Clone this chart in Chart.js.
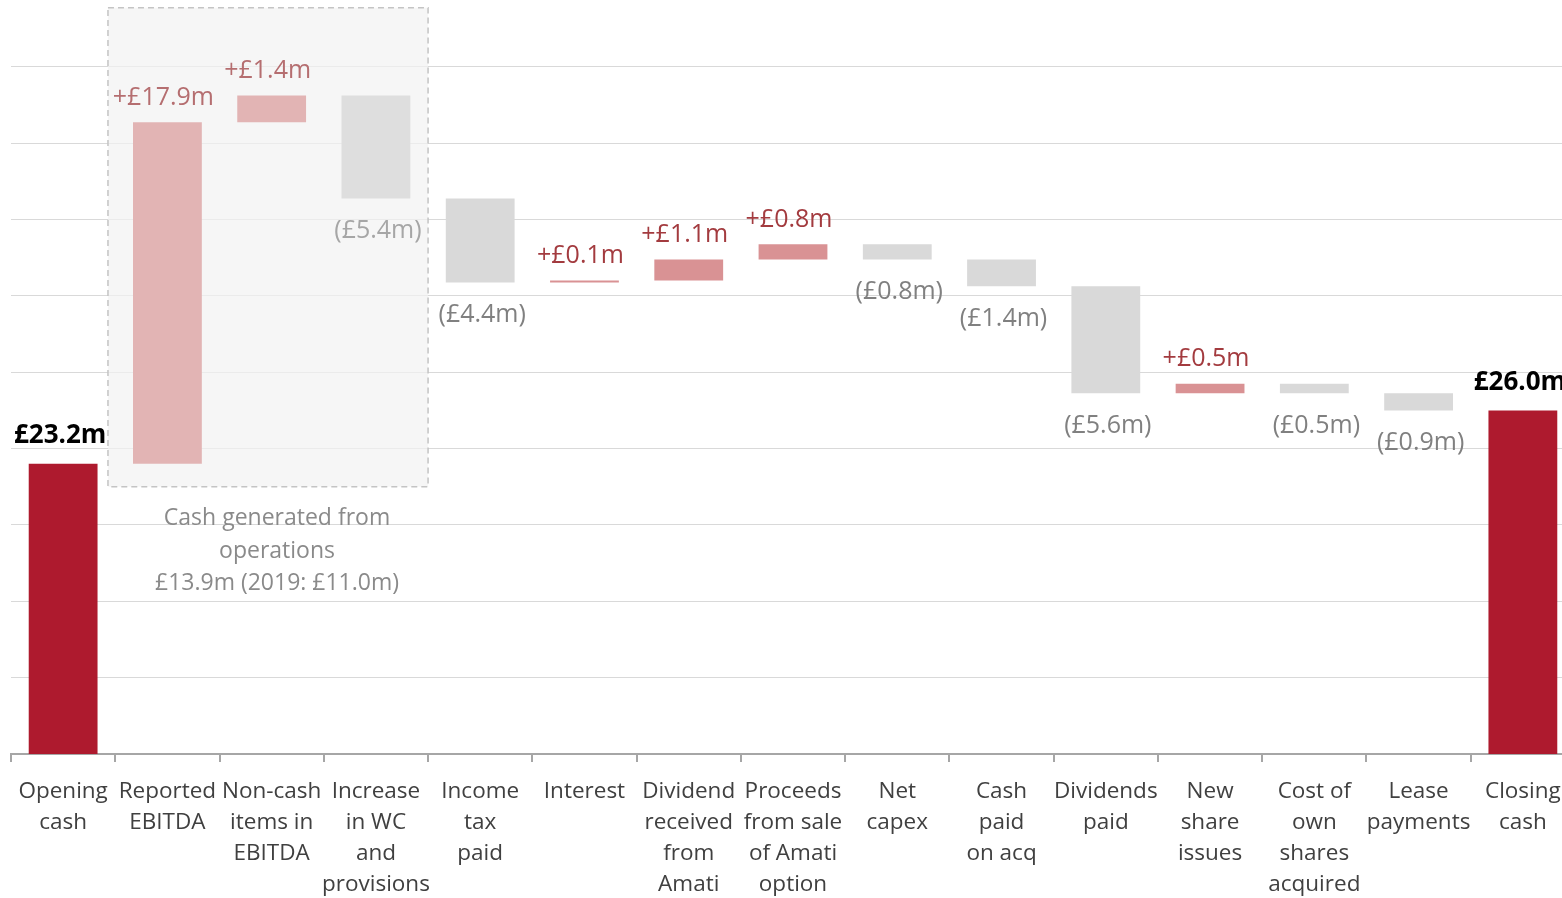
<!DOCTYPE html>
<html>
<head>
<meta charset="utf-8">
<script src="https://cdn.jsdelivr.net/npm/chart.js@4"></script>
<style>
  html, body { margin: 0; padding: 0; background: #fff; overflow: hidden; }
  #wrap { width: 1562px; height: 898px; overflow: hidden; }
</style>
</head>
<body>
<div id="wrap"><canvas id="myChart" width="1575" height="898"></canvas></div>
<script>
// Categorías del puente de caja
const categorias = [
    ['Opening', 'cash'], ['Reported', 'EBITDA'], ['Non-cash', 'items in', 'EBITDA'],
    ['Increase', 'in WC', 'and', 'provisions'], ['Income', 'tax', 'paid'], ['Interest'],
    ['Dividend', 'received', 'from', 'Amati'], ['Proceeds', 'from sale', 'of Amati', 'option'],
    ['Net', 'capex'], ['Cash', 'paid', 'on acq'], ['Dividends', 'paid'], ['New', 'share', 'issues'],
    ['Cost of', 'own', 'shares', 'acquired'], ['Lease', 'payments'], ['Closing', 'cash']
];
// Movimientos (£m); primero y último son saldos
const movimientos = [23.2, 17.9, 1.4, -5.4, -4.4, 0.1, 1.1, 0.8, -0.8, -1.4, -5.6, 0.5, -0.5, -0.9, 26.0];
const etiquetas = ['£23.2m', '+£17.9m', '+£1.4m', '(£5.4m)', '(£4.4m)', '+£0.1m', '+£1.1m', '+£0.8m',
    '(£0.8m)', '(£1.4m)', '(£5.6m)', '+£0.5m', '(£0.5m)', '(£0.9m)', '£26.0m'];
const esTotal = [true, false, false, false, false, false, false, false, false, false, false, false, false, false, true];
const enCaja = [false, true, true, true, false, false, false, false, false, false, false, false, false, false, false];
const textoCaja = ['Cash generated from', 'operations', '£13.9m (2019: £11.0m)'];

// Construir barras flotantes
let acumulado = 0;
const barras = movimientos.map((v, i) => {
    if (esTotal[i]) { acumulado = v; return [8, v]; }
    const inicio = acumulado;
    acumulado = +(acumulado + v).toFixed(2);
    return [inicio, acumulado];
});

const colores = movimientos.map((v, i) => {
    if (esTotal[i]) return '#ae1a2e';
    if (v < 0) return enCaja[i] ? '#dedede' : '#d9d9d9';
    return enCaja[i] ? '#e2b4b4' : '#d99294';
});

const fuente = "'Open Sans', 'Noto Sans', sans-serif";

const cajaPlugin = {
    id: 'caja',
    beforeDatasetsDraw(chart) {
        const { ctx, scales: { x, y } } = chart;
        const paso = x.getPixelForValue(1) - x.getPixelForValue(0);
        const izq = x.getPixelForValue(1) - paso * 0.57;
        const der = x.getPixelForValue(3) + paso * 0.5;
        const arriba = y.getPixelForValue(47.1);
        const abajo = y.getPixelForValue(22.0);
        ctx.save();
        ctx.fillStyle = 'rgba(242,242,242,0.7)';
        ctx.fillRect(izq, arriba, der - izq, abajo - arriba);
        ctx.setLineDash([6, 4]);
        ctx.strokeStyle = '#c4c4c4';
        ctx.lineWidth = 1.5;
        ctx.strokeRect(izq, arriba, der - izq, abajo - arriba);
        ctx.setLineDash([]);
        ctx.fillStyle = '#8a8a8a';
        ctx.font = '23px ' + fuente;
        ctx.textAlign = 'center';
        ctx.textBaseline = 'middle';
        const cx = (izq + der) / 2 + 9;
        textoCaja.forEach((t, k) => ctx.fillText(t, cx, abajo + 32 + k * 32.5));
        ctx.restore();
    },
    afterDatasetsDraw(chart) {
        const { ctx } = chart;
        const meta = chart.getDatasetMeta(0);
        ctx.save();
        ctx.textAlign = 'center';
        meta.data.forEach((bar, i) => {
            const arriba = Math.min(bar.y, bar.base);
            const abajo = Math.max(bar.y, bar.base);
            if (esTotal[i]) {
                ctx.font = 'bold 26px ' + fuente;
                ctx.fillStyle = '#000';
                ctx.textBaseline = 'bottom';
                ctx.fillText(etiquetas[i], bar.x - 3, arriba - 15);
            } else if (movimientos[i] >= 0) {
                ctx.font = '25px ' + fuente;
                ctx.fillStyle = enCaja[i] ? '#b56e70' : '#a33b3f';
                ctx.textBaseline = 'bottom';
                ctx.fillText(etiquetas[i], bar.x - 4, arriba - 12);
            } else {
                ctx.font = '25px ' + fuente;
                ctx.fillStyle = enCaja[i] ? '#a6a6a6' : '#808080';
                ctx.textBaseline = 'top';
                ctx.fillText(etiquetas[i], bar.x + 2, abajo + 20);
            }
        });
        ctx.restore();
    }
};

const ctx = document.getElementById('myChart').getContext('2d');
const myChart = new Chart(ctx, {
    type: 'bar',
    data: {
        labels: categorias,
        datasets: [{
            data: barras,
            backgroundColor: colores,
            borderWidth: 0,
            barPercentage: 0.66,
            categoryPercentage: 1
        }]
    },
    options: {
        responsive: false,
        animation: false,
        layout: { padding: { left: 11, right: 0, top: 0, bottom: 0 } },
        plugins: {
            legend: { display: false },
            tooltip: { enabled: false }
        },
        scales: {
            x: {
                afterFit(scale) { scale.height = 144; },
                grid: {
                    display: true,
                    offset: true,
                    drawOnChartArea: false,
                    drawTicks: true,
                    tickLength: 8,
                    color: '#a6a6a6',
                    lineWidth: 2
                },
                border: { display: true, color: '#a6a6a6', width: 2 },
                ticks: {
                    color: '#404040',
                    font: { family: fuente, size: 22.5, lineHeight: 1.38 },
                    padding: 14,
                    maxRotation: 0,
                    autoSkip: false
                }
            },
            y: {
                min: 8,
                max: 47.5,
                afterFit(scale) { scale.width = 0; },
                ticks: { display: false, stepSize: 4 },
                border: { display: false },
                grid: {
                    color: c => (c.tick && c.tick.value % 4 === 0) ? '#d9d9d9' : 'rgba(0,0,0,0)',
                    lineWidth: 1,
                    drawTicks: false
                }
            }
        }
    },
    plugins: [cajaPlugin]
});
</script>
</body>
</html>
